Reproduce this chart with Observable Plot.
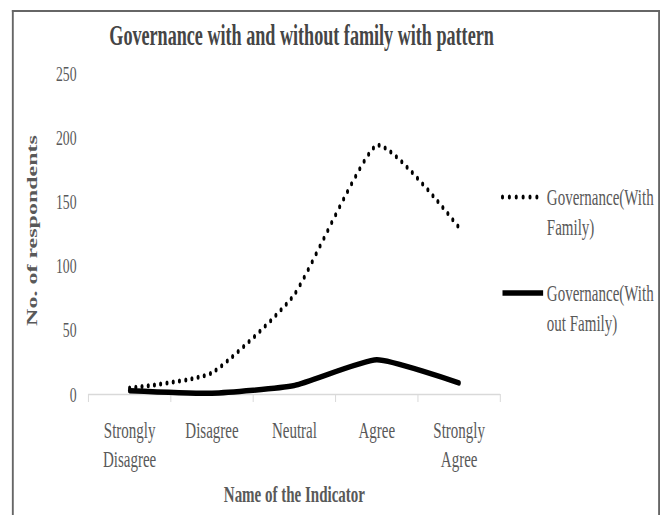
<!DOCTYPE html>
<html>
<head>
<meta charset="utf-8">
<script src="https://cdn.jsdelivr.net/npm/d3@7"></script>
<script src="https://cdn.jsdelivr.net/npm/@observablehq/plot@0.6"></script>
<style>
  html, body { margin: 0; padding: 0; background: #fff; overflow: hidden; width: 665px; height: 515px; }
  #wrap { position: relative; width: 1064px; height: 515px; transform: scaleX(0.625); transform-origin: 0 0; }
  #frame { position: absolute; left: 19px; top: 10px; width: 1037px; height: 600px; box-sizing: border-box;
           border-style: solid; border-color: #666; border-width: 2px 3.2px 0 3.2px; }
  #chart { position: absolute; left: 0; top: 0; }
  #legend { position: absolute; left: 0; top: 0; }
</style>
</head>
<body>
<div id="wrap">
  <div id="frame"></div>
  <div id="chart"></div>
  <svg id="legend" width="1064" height="515"></svg>
</div>
<script>
const title = "Governance with and without family with pattern";
const xTitle = "Name of the Indicator";
const yTitle = "No. of respondents";
const categories = ["Strongly Disagree", "Disagree", "Neutral", "Agree", "Strongly Agree"];
const tickLabels = ["Strongly\nDisagree", "Disagree", "Neutral", "Agree", "Strongly\nAgree"];
const withFamily = [5, 17, 78, 194, 130];
const withoutFamily = [3, 1, 7, 27, 9];
const yTicks = [0, 50, 100, 150, 200, 250];
const seriesNames = ["Governance(With Family)", "Governance(Without Family)"];
const legendLines = [["Governance(With", "Family)"], ["Governance(With", "out Family)"]];

const rowsWith = categories.map((c, i) => ({i, category: c, series: seriesNames[0], value: withFamily[i]}));
const rowsWithout = categories.map((c, i) => ({i, category: c, series: seriesNames[1], value: withoutFamily[i]}));
const boundaries = d3.range(categories.length + 1).map(k => k - 0.5);

const textColor = "#595959";
const font = "'Liberation Serif', 'Times New Roman', serif";

const styles = [
  {stroke: "black", strokeWidth: 5, strokeDasharray: "0 10", strokeLinecap: "round"},
  {stroke: "black", strokeWidth: 5.5, strokeLinecap: "round", strokeLinejoin: "round"}
];

const chart = Plot.plot({
  width: 1064,
  height: 515,
  marginLeft: 141,
  marginRight: 264,
  marginTop: 73,
  marginBottom: 121,
  style: {fontFamily: font, color: textColor, background: "transparent", overflow: "visible"},
  x: {domain: [-0.5, categories.length - 0.5], axis: null},
  y: {domain: [0, 250], axis: null},
  marks: [
    Plot.ruleY([0], {stroke: "#d9d9d9", strokeWidth: 1.6}),
    Plot.axisX({ticks: boundaries, tickSize: 8, tickFormat: () => "", stroke: "#d9d9d9", strokeWidth: 1.6, label: null}),
    Plot.axisX({ticks: d3.range(categories.length), tickSize: 0, tickPadding: 24, tickFormat: i => tickLabels[i],
                fontSize: 24, lineHeight: 1.17, fill: textColor, label: null}),
    Plot.axisY({ticks: yTicks, tickSize: 0, tickPadding: 19, fontSize: 22, fill: textColor, label: null}),
    Plot.text([yTitle], {text: d => d, frameAnchor: "left", dx: -90, dy: -3.5, rotate: -90, textAnchor: "middle",
                         fontSize: 24, fontWeight: "bold", fill: textColor}),
    Plot.text([xTitle], {text: d => d, frameAnchor: "bottom", dy: 107, lineAnchor: "bottom",
                         fontSize: 24, fontWeight: "bold", fill: textColor}),
    Plot.text([title], {text: d => d, frameAnchor: "top", dx: 11.5, dy: -29, lineAnchor: "bottom",
                        fontSize: 29, fontWeight: "bold", fill: "#454545"}),
    Plot.line(rowsWith, {x: "i", y: "value", curve: "cardinal", tension: 0.5, ...styles[0]}),
    Plot.line(rowsWithout, {x: "i", y: "value", curve: "cardinal", tension: 0.5, ...styles[1]})
  ]
});
document.getElementById("chart").appendChild(chart);

// Legend
const legend = d3.select("#legend");
const legendRows = [{y: 197, x2: 860}, {y: 293, x2: 869}];
legendRows.forEach((r, k) => {
  const g = legend.append("g");
  g.append("line")
    .attr("x1", 804).attr("x2", r.x2).attr("y1", r.y).attr("y2", r.y)
    .attr("stroke", styles[k].stroke)
    .attr("stroke-width", styles[k].strokeWidth)
    .attr("stroke-dasharray", k === 0 ? "0 11" : null)
    .attr("stroke-linecap", k === 0 ? "round" : "butt");
  const t = g.append("text")
    .attr("font-family", font).attr("font-size", 24).attr("fill", textColor);
  legendLines[k].forEach((line, j) => {
    t.append("tspan").attr("x", 875).attr("y", r.y + 8 + j * 30).text(line);
  });
});
</script>
</body>
</html>
